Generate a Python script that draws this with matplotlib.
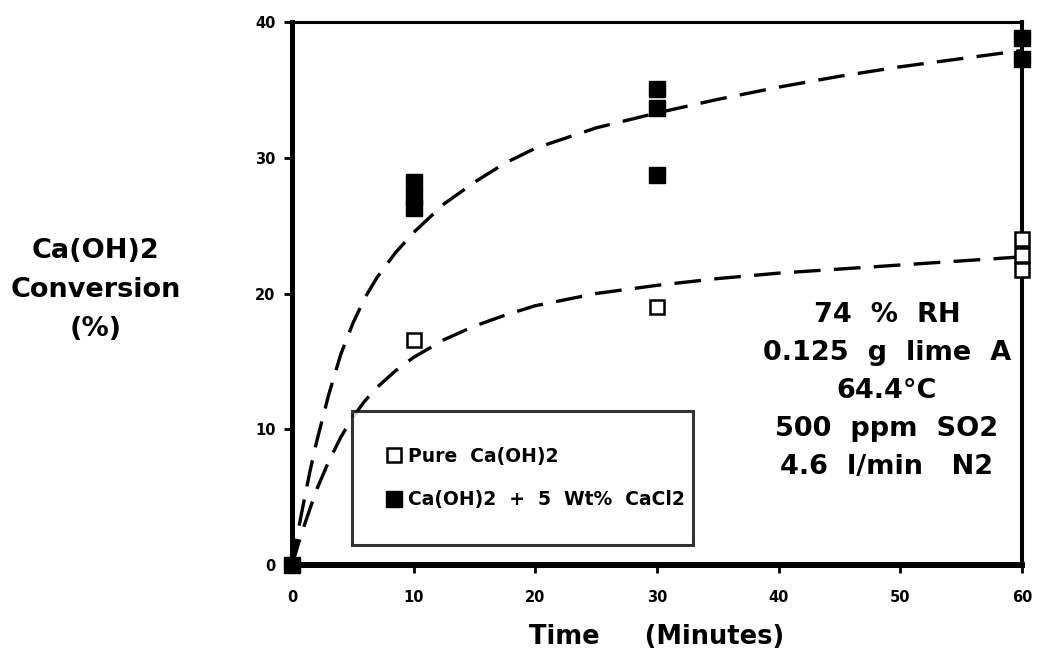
import numpy as np
import matplotlib
matplotlib.use("Agg")
import matplotlib.pyplot as plt

# measured points (time in minutes, conversion in %)
pure_t = [10, 30, 60, 60, 60]
pure_conv = [16.6, 19.0, 24.0, 22.8, 21.7]

cacl2_t = [0, 10, 10, 10, 30, 30, 30, 60, 60]
cacl2_conv = [0.0, 28.2, 27.1, 26.3, 35.1, 33.7, 28.7, 38.8, 37.3]

# dashed fit curves
fit_hi_t = [0, 0.5, 1, 1.5, 2, 3, 4, 5, 6, 7, 8.5, 10, 12.5, 15, 17.5, 20, 25, 30, 35, 40, 45, 50, 55, 60]
fit_hi_conv = [0, 2.5, 4.8, 7.0, 9.0, 12.5, 15.5, 17.8, 19.7, 21.2, 23.0, 24.5, 26.6, 28.2, 29.6, 30.7,
               32.2, 33.3, 34.3, 35.2, 36.0, 36.7, 37.3, 37.9]
fit_lo_t = [0, 0.5, 1, 2, 3, 4, 5, 6, 7, 8.5, 10, 12.5, 15, 17.5, 20, 25, 30, 35, 40, 45, 50, 55, 60]
fit_lo_conv = [0, 1.5, 2.9, 5.5, 7.6, 9.4, 10.9, 12.1, 13.1, 14.3, 15.3, 16.6, 17.6, 18.4, 19.1, 20.0,
               20.6, 21.1, 21.5, 21.8, 22.1, 22.4, 22.7]

x_ticks = [0, 10, 20, 30, 40, 50, 60]
y_ticks = [0, 10, 20, 30, 40]

conditions = "74  %  RH\n0.125  g  lime  A\n64.4°C\n500  ppm  SO2\n4.6  l/min   N2"

plt.rcParams['font.family'] = ['DejaVu Sans']
plt.rcParams['font.weight'] = 'bold'

fig = plt.figure(figsize=(10.37, 6.58), dpi=100)
ax = fig.add_axes([0.2816, 0.1413, 0.7039, 0.8253])

dash = dict(color='black', lw=2.4, ls=(0, (8, 4)))
ax.plot(fit_hi_t, fit_hi_conv, **dash)
ax.plot(fit_lo_t, fit_lo_conv, **dash)

ax.plot(pure_t, pure_conv, ls='none', marker='s', ms=10, mfc='white', mec='black',
        mew=1.8, clip_on=False, zorder=5, label='Pure  Ca(OH)2')
ax.plot(cacl2_t, cacl2_conv, ls='none', marker='s', ms=11, mfc='black', mec='black',
        clip_on=False, zorder=6, label='Ca(OH)2  +  5  Wt%  CaCl2')

ax.set_xlim(0, 60)
ax.set_ylim(0, 40)
ax.set_xticks(x_ticks)
ax.set_yticks(y_ticks)
ax.tick_params(axis='x', direction='out', length=6, width=2, pad=12, labelsize=10.5)
ax.tick_params(axis='y', direction='out', length=6, width=2, pad=6, labelsize=10.5)
for lab in ax.get_xticklabels() + ax.get_yticklabels():
    lab.set_fontweight('bold')

ax.spines['left'].set_linewidth(3.6)
ax.spines['bottom'].set_linewidth(4.3)
ax.spines['top'].set_linewidth(2.2)
ax.spines['right'].set_linewidth(2.9)

ax.set_xlabel('Time     (Minutes)', fontsize=18.5, fontweight='bold', labelpad=14)
fig.text(0.092, 0.56, 'Ca(OH)2\nConversion\n(%)', ha='center', va='center',
         fontsize=19.5, fontweight='bold', linespacing=1.65)

ax.text(0.815, 0.32, conditions, transform=ax.transAxes, ha='center', va='center',
        fontsize=19.5, fontweight='bold', linespacing=1.6)

leg = ax.legend(loc='lower left', bbox_to_anchor=(0.082, 0.037, 0.467, 0.25),
                mode='expand', fontsize=13.5, frameon=True, fancybox=False,
                borderpad=1.9, labelspacing=1.3, handlelength=0.7,
                handletextpad=0.4, borderaxespad=0)
leg._legend_box.align = 'left'
leg.get_frame().set_edgecolor('black')
leg.get_frame().set_linewidth(2.2)
for t in leg.get_texts():
    t.set_fontweight('bold')

fig.savefig('out.png', dpi=100)
